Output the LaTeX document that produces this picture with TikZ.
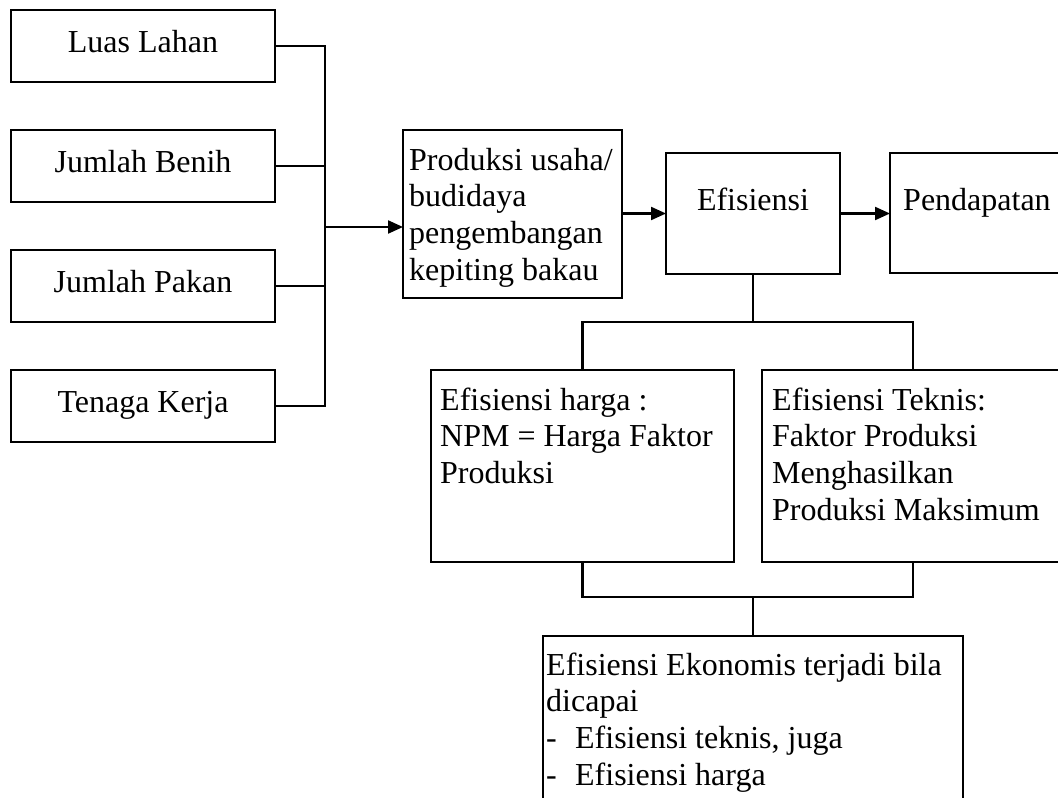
\documentclass[tikz,border=0pt]{standalone}
\usepackage{fontspec}
\setmainfont{Liberation Serif}
\usetikzlibrary{arrows.meta}
\begin{document}
\begin{tikzpicture}[x=1pt,y=-1pt,
  txt/.style={font=\fontsize{32}{36.7}\selectfont},
  box/.style={draw, line width=2.4pt, inner sep=0pt, outer sep=0pt, anchor=north west},
  inbox/.style={box, txt, text height=22pt, text depth=10pt, minimum width=264pt, minimum height=72pt},
  lbl/.style={txt, inner sep=0pt, anchor=base west},
  conn/.style={line width=2.2pt},
  arr/.style={conn, -{Triangle[length=15pt,width=13pt]}},
]
\useasboundingbox (0,0) rectangle (1058,798);
\clip (0,0) rectangle (1058,798);

% left input boxes
\node[inbox] (luas)   at (11,10)  {Luas Lahan};
\node[inbox] (benih)  at (11,130) {Jumlah Benih};
\node[inbox] (pakan)  at (11,250) {Jumlah Pakan};
\node[inbox] (tenaga) at (11,370) {Tenaga Kerja};

% production box
\node[box, minimum width=219pt, minimum height=168pt] (prod) at (403,130) {};
\node[lbl] (tprod) at (409,170) {\vtop{\hbox{Produksi usaha/}\hbox{budidaya}\hbox{pengembangan}\hbox{kepiting bakau}}};

% efisiensi
\node[box, minimum width=174pt, minimum height=121pt] (efi) at (666,153) {};
\node[txt, inner sep=0pt, anchor=base] (tefi) at (753,210) {Efisiensi};

% pendapatan
\node[box, minimum width=180pt, minimum height=120pt] (pend) at (890,153) {};
\node[lbl] (tpend) at (903,210) {Pendapatan};

% efisiensi harga
\node[box, minimum width=303pt, minimum height=192pt] (harga) at (431,370) {};
\node[lbl] (tharga) at (440,410) {\vtop{\hbox{Efisiensi harga :}\hbox{NPM = Harga Faktor}\hbox{Produksi}}};

% efisiensi teknis
\node[box, minimum width=302pt, minimum height=192pt] (teknis) at (762,370) {};
\node[lbl] (tteknis) at (772,410) {\vtop{\hbox{Efisiensi Teknis:}\hbox{Faktor Produksi}\hbox{Menghasilkan}\hbox{Produksi Maksimum}}};

% efisiensi ekonomis
\node[box, minimum width=420pt, minimum height=180pt] (eko) at (543,636) {};
\node[lbl] (teko) at (546,675) {\vtop{\hbox{Efisiensi Ekonomis terjadi bila}\hbox{dicapai}\hbox{\hbox to 29pt{-\hfil}Efisiensi teknis, juga}\hbox{\hbox to 29pt{-\hfil}Efisiensi harga}}};

% junction points
\coordinate (bus) at (325,227);
\coordinate (split) at (753,322);
\coordinate (join) at (753,597);

% connectors
\draw[conn] (luas.east) -| (bus) |- (tenaga.east);
\draw[conn] (benih.east) -- (benih.east -| bus);
\draw[conn] (pakan.east) -- (pakan.east -| bus);
\draw[arr] (bus) -- (prod.west |- bus);
\draw[arr] (prod.east |- efi.west) -- (efi.west);
\draw[arr] (efi.east) -- (pend.west |- efi.east);
\draw[conn] (efi.south) -- (split);
\draw[conn] (harga.north) |- (split) -| (teknis.north);
\draw[conn] (harga.south) |- (join) -| (teknis.south);
\draw[conn] (join) -- (eko.north);
\end{tikzpicture}
\end{document}
